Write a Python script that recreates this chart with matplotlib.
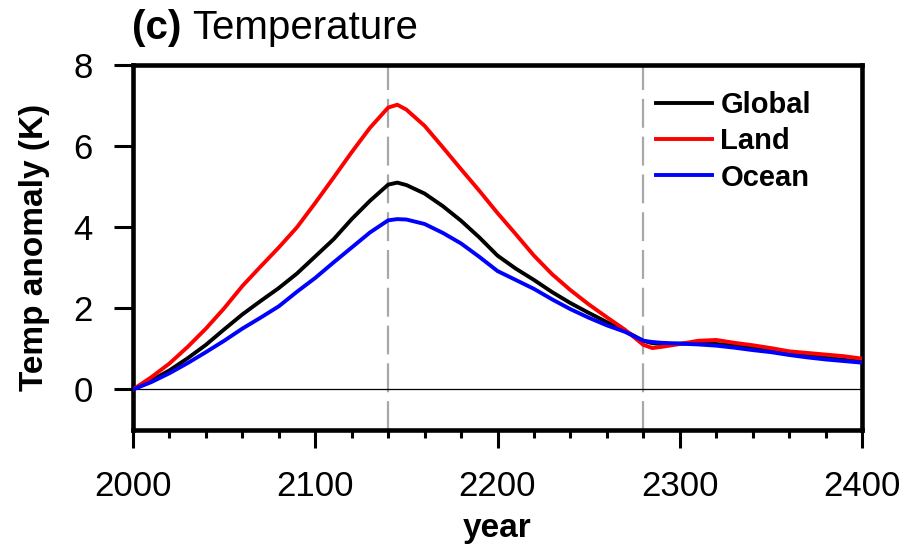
import numpy as np
import matplotlib
matplotlib.use("Agg")
import matplotlib.pyplot as plt
from matplotlib.ticker import MultipleLocator

plt.rcParams['font.family'] = ['Liberation Sans', 'DejaVu Sans']

# values
years = [2000, 2010, 2020, 2030, 2040, 2050, 2060, 2070, 2080, 2090,
         2100, 2110, 2120, 2130, 2140, 2145, 2150, 2160, 2170, 2180,
         2190, 2200, 2210, 2220, 2230, 2240, 2250, 2260, 2270, 2280,
         2285, 2290, 2300, 2310, 2320, 2330, 2340, 2350, 2360, 2370,
         2380, 2390, 2400]

land = [0.0, 0.30, 0.64, 1.05, 1.50, 2.00, 2.55, 3.03, 3.50, 4.00,
        4.60, 5.22, 5.85, 6.45, 6.95, 7.02, 6.90, 6.50, 5.97, 5.43,
        4.90, 4.35, 3.83, 3.30, 2.84, 2.45, 2.10, 1.78, 1.47, 1.10,
        1.02, 1.05, 1.12, 1.20, 1.22, 1.15, 1.09, 1.02, 0.94, 0.90,
        0.86, 0.82, 0.76]

glob = [0.0, 0.22, 0.47, 0.77, 1.10, 1.48, 1.85, 2.18, 2.50, 2.86,
        3.28, 3.70, 4.20, 4.65, 5.05, 5.10, 5.04, 4.83, 4.52, 4.16,
        3.75, 3.30, 2.98, 2.70, 2.40, 2.13, 1.89, 1.66, 1.44, 1.20,
        1.14, 1.12, 1.13, 1.14, 1.12, 1.08, 1.02, 0.96, 0.90, 0.84,
        0.78, 0.73, 0.68]

ocean = [0.0, 0.18, 0.40, 0.65, 0.92, 1.20, 1.50, 1.77, 2.05, 2.41,
         2.75, 3.13, 3.50, 3.87, 4.17, 4.20, 4.19, 4.08, 3.86, 3.60,
         3.27, 2.92, 2.70, 2.48, 2.22, 1.98, 1.77, 1.58, 1.42, 1.20,
         1.17, 1.15, 1.13, 1.11, 1.08, 1.03, 0.97, 0.92, 0.85, 0.79,
         0.74, 0.70, 0.66]

marks = [2140, 2280]

W, H = 905, 548
fig = plt.figure(figsize=(W / 100, H / 100), dpi=100)
ax = fig.add_axes([133 / W, 1 - 430 / H, (862 - 133) / W, (430 - 65) / H])

for m in marks:
    ax.axvline(m, color='#a8a8a8', lw=1.6, dashes=(13, 4), zorder=1)
ax.axhline(0, color='black', lw=0.9, zorder=1)

ax.plot(years, glob, color='black', lw=2.8, label='Global', zorder=3)
ax.plot(years, land, color='#ff0000', lw=2.8, label='Land', zorder=4)
ax.plot(years, ocean, color='#0000ff', lw=2.8, label='Ocean', zorder=5)

ax.set_xlim(2000, 2400)
ax.set_ylim(-1, 8)
ax.xaxis.set_major_locator(MultipleLocator(100))
ax.xaxis.set_minor_locator(MultipleLocator(20))
ax.set_yticks([0, 2, 4, 6, 8])

for s in ax.spines.values():
    s.set_linewidth(3.3)
ax.tick_params(axis='x', which='major', length=13, width=2.2, labelsize=25, pad=16)
ax.tick_params(axis='x', which='minor', length=6, width=2.2)
ax.tick_params(axis='y', which='major', length=14, width=2.2, labelsize=25, pad=15)

ax.set_xlabel('year', fontsize=24, fontweight='bold', labelpad=7)
ax.set_ylabel('Temp anomaly (K)', fontsize=24, fontweight='bold', labelpad=17)

leg = ax.legend(loc='upper right', frameon=False,
                prop={'weight': 'bold', 'size': 21},
                handlelength=1.9, handletextpad=0.3, labelspacing=0.28,
                bbox_to_anchor=(0.966, 1.0))

fig.text(132 / W, 1 - 39 / H, '(c)', fontsize=29, fontweight='bold', va='baseline')
fig.text(192 / W, 1 - 39 / H, 'Temperature', fontsize=29, va='baseline')

fig.savefig('out.png', dpi=100)
